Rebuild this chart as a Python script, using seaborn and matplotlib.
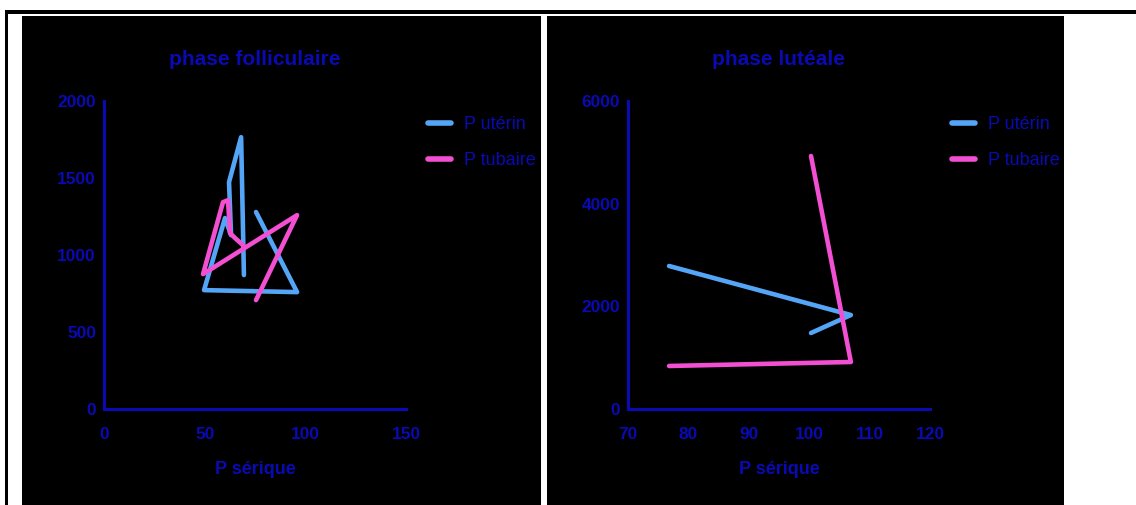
import matplotlib
matplotlib.use("Agg")
import matplotlib.pyplot as plt
from matplotlib.patches import Rectangle
from matplotlib.lines import Line2D
import pandas as pd
import seaborn as sns

sns.set_theme(style="white")
plt.rcParams["font.family"] = ["Liberation Sans", "DejaVu Sans"]

# ---- data: phase folliculaire ----
fol_x_uterin = [75.5, 95.9, 49.7, 60.1, 63.1, 62.1, 68.1, 69.5]
fol_y_uterin = [1279, 759, 772, 1240, 1129, 1473, 1765, 870]
fol_x_tubaire = [75.5, 95.9, 49.2, 59.1, 61.6, 62.6, 65.1, 69.0]
fol_y_tubaire = [707, 1259, 876, 1343, 1356, 1142, 1110, 1064]

# ---- data: phase lutéale ----
lut_x_uterin = [76.8, 106.9, 100.3]
lut_y_uterin = [2786, 1831, 1481]
lut_x_tubaire = [76.8, 106.9, 100.3]
lut_y_tubaire = [838, 916, 4929]

series_names = ["P utérin", "P tubaire"]
titles = ["phase folliculaire", "phase lutéale"]
x_label = "P sérique"
fol_xticks = [0, 50, 100, 150]
fol_yticks = [0, 500, 1000, 1500, 2000]
lut_xticks = [70, 80, 90, 100, 110, 120]
lut_yticks = [0, 2000, 4000, 6000]

INK = "#0A0AB4"
COLORS = {"P utérin": "#55A5F7", "P tubaire": "#F24FD3"}


def frame(xu, yu, xt, yt):
    n1, n2 = len(xu), len(xt)
    return pd.DataFrame({
        "x": list(xu) + list(xt),
        "y": list(yu) + list(yt),
        "serie": [series_names[0]] * n1 + [series_names[1]] * n2,
    })


fig = plt.figure(figsize=(11.36, 5.05), dpi=100)
fig.patch.set_facecolor("white")
W, H = 1136, 505


def px_rect(x0, y0, x1, y1):
    fig.add_artist(Rectangle((x0 / W, 1 - y1 / H), (x1 - x0) / W, (y1 - y0) / H,
                             transform=fig.transFigure, facecolor="black",
                             edgecolor="none", zorder=0))


# outer frame lines and the two black panels
px_rect(5, 10, 1136, 13.5)
px_rect(5, 10, 7.5, 505)
px_rect(22, 16, 541, 505)
px_rect(547, 16, 1064, 505)

panels = [
    dict(df=frame(fol_x_uterin, fol_y_uterin, fol_x_tubaire, fol_y_tubaire),
         left=104, xlim=(0, 150), ylim=(0, 2000), xt=fol_xticks, yt=fol_yticks,
         title=titles[0]),
    dict(df=frame(lut_x_uterin, lut_y_uterin, lut_x_tubaire, lut_y_tubaire),
         left=628, xlim=(70, 120), ylim=(0, 6000), xt=lut_xticks, yt=lut_yticks,
         title=titles[1]),
]

for p in panels:
    ax = fig.add_axes([p["left"] / W, (H - 409) / H, 302 / W, 308 / H])
    ax.set_facecolor("none")
    sns.lineplot(data=p["df"], x="x", y="y", hue="serie",
                 sort=False, estimator=None, palette=COLORS, linewidth=3.3,
                 solid_capstyle="round", solid_joinstyle="round", ax=ax, legend=False)
    ax.set_xlim(*p["xlim"])
    ax.set_ylim(*p["ylim"])
    ax.set_xticks(p["xt"])
    ax.set_yticks(p["yt"])
    ax.set_xticklabels([str(v) for v in p["xt"]])
    ax.set_yticklabels([str(v) for v in p["yt"]])
    for s in ["top", "right"]:
        ax.spines[s].set_visible(False)
    for s in ["left", "bottom"]:
        ax.spines[s].set_color(INK)
        ax.spines[s].set_linewidth(2.2)
    ax.tick_params(axis="both", direction="out", width=2.2, color=INK,
                   labelcolor=INK, labelsize=12.5)
    ax.tick_params(axis="x", length=6, pad=7)
    ax.tick_params(axis="y", length=5, pad=0.8)
    for lab in ax.get_xticklabels() + ax.get_yticklabels():
        lab.set_fontweight("bold")
    ax.set_title(p["title"], color=INK, fontsize=15, fontweight="bold", pad=26)
    ax.set_xlabel(x_label, color=INK, fontsize=13, fontweight="bold", labelpad=14)
    ax.set_ylabel("")
    ax.grid(False)
    handles = [Line2D([], [], color=COLORS[n], linewidth=4) for n in series_names]
    leg = ax.legend(handles, series_names, loc="upper left", bbox_to_anchor=(1.05, 0.975),
                    borderaxespad=0, frameon=False, handlelength=1.25, handletextpad=0.7,
                    labelspacing=1.05, fontsize=13)
    for t in leg.get_texts():
        t.set_color(INK)

fig.savefig("out.png", dpi=100, facecolor="white")
